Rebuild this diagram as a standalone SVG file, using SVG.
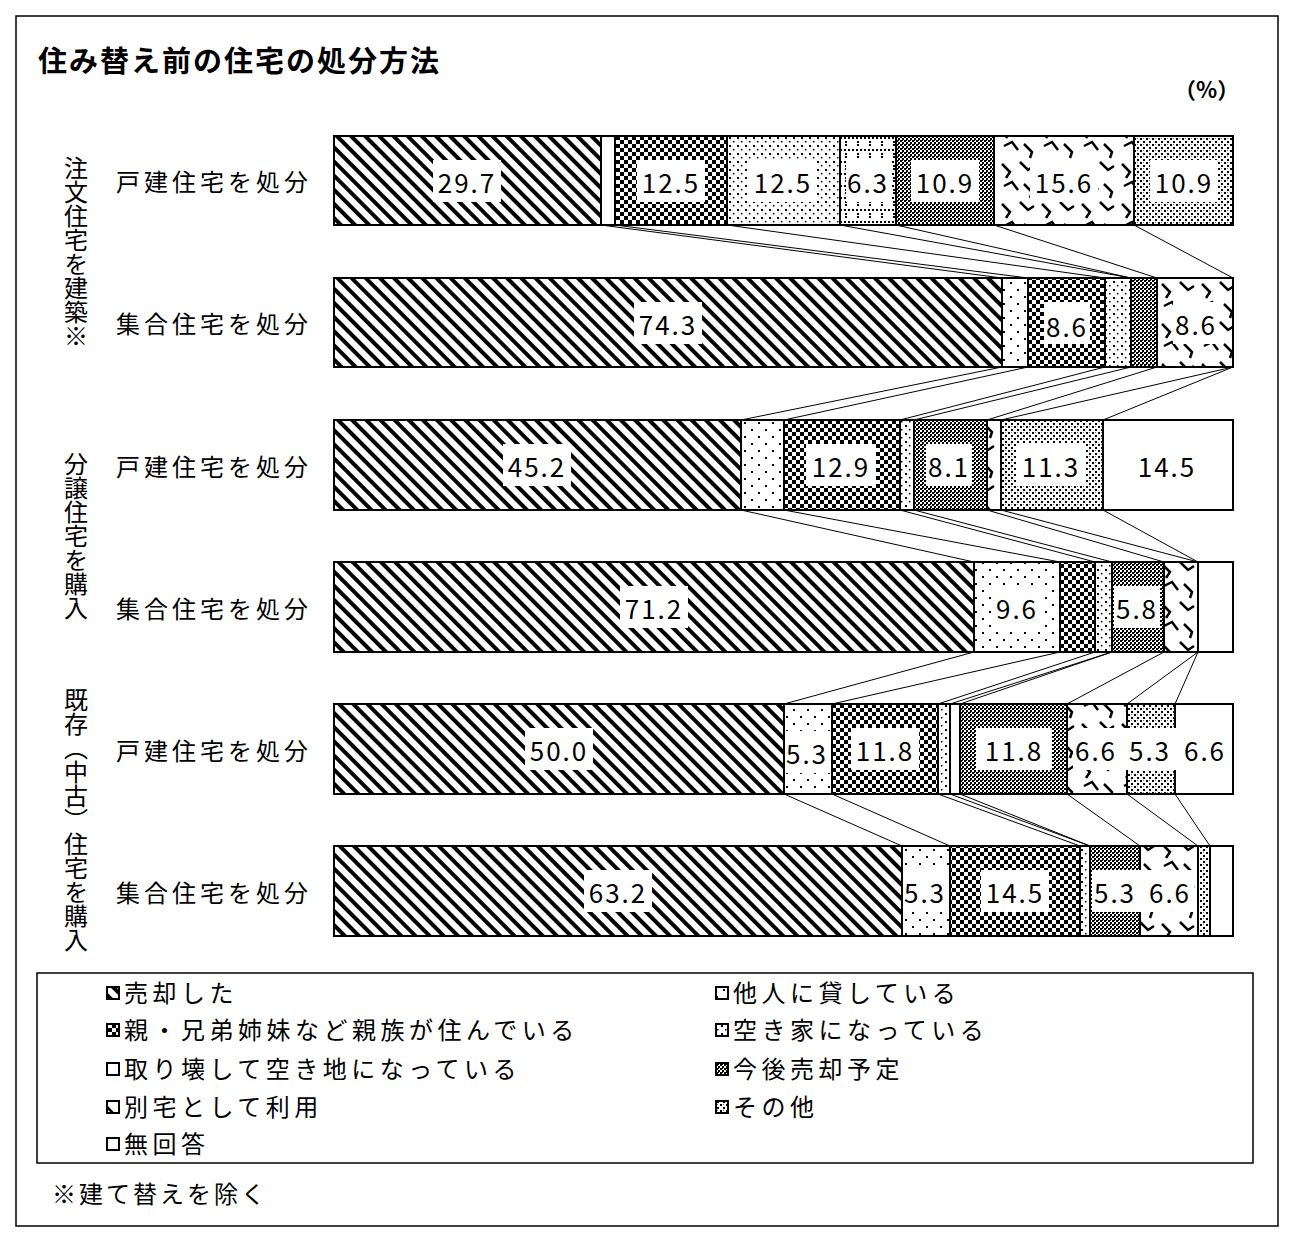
<svg xmlns="http://www.w3.org/2000/svg" width="1298" height="1244" viewBox="0 0 1298 1244">
<style>
text{font-family:"Noto Sans CJK JP","Liberation Sans",sans-serif;fill:#000}
.num{font-size:26px;text-anchor:middle;dominant-baseline:central;letter-spacing:2px}
.lab{font-size:24px;text-anchor:middle;dominant-baseline:central;letter-spacing:4px}
.vlab{font-size:24px;writing-mode:vertical-rl;text-orientation:upright;text-anchor:middle;letter-spacing:0px}
.leg{font-size:24px;letter-spacing:4.5px}
.seg{stroke:#000;stroke-width:2}
.box{fill:#fff}
.con line{stroke:#000;stroke-width:1}
.ico{stroke:#000;stroke-width:2}
</style>
<defs>
<pattern id="pDiag" width="10" height="10" patternUnits="userSpaceOnUse" patternTransform="rotate(-45)"><rect width="10" height="10" fill="#fff"/><rect width="4" height="10" fill="#000"/></pattern>
<pattern id="pChk" width="8" height="8" patternUnits="userSpaceOnUse"><rect width="8" height="8" fill="#fff"/><rect width="4" height="4" fill="#000"/><rect x="4" y="4" width="4" height="4" fill="#000"/></pattern>
<pattern id="pSparse" width="14" height="14" patternUnits="userSpaceOnUse"><rect width="14" height="14" fill="#fff"/><rect x="2" y="2" width="2" height="2" fill="#000"/><rect x="9" y="9" width="2" height="2" fill="#000"/></pattern>
<pattern id="pDots" width="8" height="8" patternUnits="userSpaceOnUse"><rect width="8" height="8" fill="#fff"/><rect x="1" y="1" width="2" height="2" fill="#000"/><rect x="5" y="5" width="1.5" height="1.5" fill="#000"/></pattern>
<pattern id="pGrid" width="12" height="12" patternUnits="userSpaceOnUse"><rect width="12" height="12" fill="#fff"/><rect x="0" y="5" width="2" height="2" fill="#000"/><rect x="4" y="5" width="2" height="2" fill="#000"/><rect x="8" y="5" width="2" height="2" fill="#000"/><rect x="5" y="0" width="2" height="2" fill="#000"/><rect x="5" y="9" width="2" height="2" fill="#000"/></pattern>
<pattern id="pDark" width="4" height="4" patternUnits="userSpaceOnUse"><rect width="4" height="4" fill="#fff"/><rect width="2" height="2" fill="#000"/><rect x="2" y="2" width="2" height="2" fill="#000"/><rect x="2" y="0" width="1" height="1" fill="#000"/></pattern>
<pattern id="pWave" width="40" height="40" patternUnits="userSpaceOnUse"><rect width="40" height="40" fill="#fff"/><path d="M2 4 L10 12 L6 18 M20 2 L28 10 L34 6 M4 26 L12 22 L18 30 M24 24 L32 32 L30 38" fill="none" stroke="#000" stroke-width="2.5"/></pattern>
<pattern id="pLight" width="6" height="6" patternUnits="userSpaceOnUse"><rect width="6" height="6" fill="#fff"/><rect width="2" height="2" fill="#000"/><rect x="3" y="3" width="2" height="2" fill="#000"/><rect x="3" y="0" width="1" height="1" fill="#777"/></pattern>
</defs>
<rect x="16" y="16" width="1262" height="1210" fill="#fff" stroke="#000" stroke-width="1.5"/>
<g id="title"><text x="38" y="72" font-size="29" font-weight="bold" letter-spacing="2">住み替え前の住宅の処分方法</text>
<text x="1174" y="98" font-size="22" font-weight="bold">（%）</text></g>

<g id="groups">
<text class="vlab" x="76" y="252">注文住宅を建築※</text>
<text class="vlab" x="76" y="536">分譲住宅を購入</text>
<text class="vlab" x="76" y="820">既存（中古）住宅を購入</text>
</g>
<g id="rowlabels">
<text class="lab" x="214" y="180">戸建住宅を処分</text>
<text class="lab" x="214" y="322">集合住宅を処分</text>
<text class="lab" x="214" y="465">戸建住宅を処分</text>
<text class="lab" x="214" y="607">集合住宅を処分</text>
<text class="lab" x="214" y="749">戸建住宅を処分</text>
<text class="lab" x="214" y="891">集合住宅を処分</text>
</g>

<g id="connectors" class="con">
<line x1="601" y1="225" x2="1002" y2="278"/><line x1="615" y1="225" x2="1028" y2="278"/><line x1="727" y1="225" x2="1105" y2="278"/><line x1="840" y1="225" x2="1131" y2="278"/><line x1="896" y1="225" x2="1131" y2="278"/><line x1="994" y1="225" x2="1157" y2="278"/><line x1="1134" y1="225" x2="1233" y2="278"/>
<line x1="1002" y1="367" x2="741" y2="420"/><line x1="1028" y1="367" x2="784" y2="420"/><line x1="1105" y1="367" x2="900" y2="420"/><line x1="1131" y1="367" x2="914" y2="420"/><line x1="1157" y1="367" x2="987" y2="420"/><line x1="1233" y1="367" x2="1001" y2="420"/><line x1="1233" y1="367" x2="1103" y2="420"/>
<line x1="741" y1="510" x2="974" y2="562"/><line x1="784" y1="510" x2="1060" y2="562"/><line x1="900" y1="510" x2="1095" y2="562"/><line x1="914" y1="510" x2="1112" y2="562"/><line x1="987" y1="510" x2="1164" y2="562"/><line x1="1001" y1="510" x2="1198" y2="562"/><line x1="1103" y1="510" x2="1198" y2="562"/>
<line x1="974" y1="652" x2="784" y2="704"/><line x1="1060" y1="652" x2="832" y2="704"/><line x1="1095" y1="652" x2="938" y2="704"/><line x1="1112" y1="652" x2="950" y2="704"/><line x1="1112" y1="652" x2="960" y2="704"/><line x1="1164" y1="652" x2="1067" y2="704"/><line x1="1198" y1="652" x2="1127" y2="704"/><line x1="1198" y1="652" x2="1175" y2="704"/>
<line x1="784" y1="794" x2="902" y2="846"/><line x1="832" y1="794" x2="950" y2="846"/><line x1="938" y1="794" x2="1080" y2="846"/><line x1="950" y1="794" x2="1090" y2="846"/><line x1="960" y1="794" x2="1090" y2="846"/><line x1="1067" y1="794" x2="1140" y2="846"/><line x1="1127" y1="794" x2="1198" y2="846"/><line x1="1175" y1="794" x2="1210" y2="846"/>
</g>

<g id="bar1">
<rect class="seg" x="334" y="136" width="267" height="89" fill="url(#pDiag)"/>
<rect class="seg" x="601" y="136" width="14" height="89" fill="#fff"/>
<rect class="seg" x="615" y="136" width="112" height="89" fill="url(#pChk)"/>
<rect class="seg" x="727" y="136" width="113" height="89" fill="url(#pDots)"/>
<rect class="seg" x="840" y="136" width="56" height="89" fill="url(#pGrid)"/>
<rect class="seg" x="896" y="136" width="98" height="89" fill="url(#pDark)"/>
<rect class="seg" x="994" y="136" width="140" height="89" fill="url(#pWave)"/>
<rect class="seg" x="1134" y="136" width="99" height="89" fill="url(#pLight)"/>
<rect class="box" x="433" y="160" width="68" height="42"/><text class="num" x="467" y="181">29.7</text>
<rect class="box" x="637" y="160" width="68" height="42"/><text class="num" x="671" y="181">12.5</text>
<rect class="box" x="749" y="160" width="68" height="42"/><text class="num" x="783" y="181">12.5</text>
<rect class="box" x="846" y="160" width="44" height="42"/><text class="num" x="868" y="181">6.3</text>
<rect class="box" x="911" y="160" width="68" height="42"/><text class="num" x="945" y="181">10.9</text>
<rect class="box" x="1030" y="160" width="68" height="42"/><text class="num" x="1064" y="181">15.6</text>
<rect class="box" x="1150" y="160" width="68" height="42"/><text class="num" x="1184" y="181">10.9</text>
</g>
<g id="bar2">
<rect class="seg" x="334" y="278" width="668" height="89" fill="url(#pDiag)"/>
<rect class="seg" x="1002" y="278" width="26" height="89" fill="url(#pSparse)"/>
<rect class="seg" x="1028" y="278" width="77" height="89" fill="url(#pChk)"/>
<rect class="seg" x="1105" y="278" width="26" height="89" fill="url(#pDots)"/>
<rect class="seg" x="1131" y="278" width="26" height="89" fill="url(#pDark)"/>
<rect class="seg" x="1157" y="278" width="76" height="89" fill="url(#pWave)"/>
<rect class="box" x="634" y="302" width="68" height="42"/><text class="num" x="668" y="323">74.3</text>
<rect class="box" x="1044" y="302" width="46" height="42"/><text class="num" x="1067" y="325">8.6</text>
<rect class="box" x="1173" y="302" width="46" height="42"/><text class="num" x="1196" y="323">8.6</text>
</g>
<g id="bar3">
<rect class="seg" x="334" y="420" width="407" height="90" fill="url(#pDiag)"/>
<rect class="seg" x="741" y="420" width="43" height="90" fill="url(#pSparse)"/>
<rect class="seg" x="784" y="420" width="116" height="90" fill="url(#pChk)"/>
<rect class="seg" x="900" y="420" width="14" height="90" fill="url(#pDots)"/>
<rect class="seg" x="914" y="420" width="73" height="90" fill="url(#pDark)"/>
<rect class="seg" x="987" y="420" width="14" height="90" fill="url(#pWave)"/>
<rect class="seg" x="1001" y="420" width="102" height="90" fill="url(#pLight)"/>
<rect class="seg" x="1103" y="420" width="130" height="90" fill="#fff"/>
<rect class="box" x="503" y="444" width="68" height="42"/><text class="num" x="537" y="465">45.2</text>
<rect class="box" x="806" y="444" width="70" height="42"/><text class="num" x="841" y="465">12.9</text>
<rect class="box" x="926" y="444" width="46" height="42"/><text class="num" x="949" y="465">8.1</text>
<rect class="box" x="1017" y="444" width="68" height="42"/><text class="num" x="1051" y="465">11.3</text>
<text class="num" x="1167" y="465">14.5</text>
</g>
<g id="bar4">
<rect class="seg" x="334" y="562" width="640" height="90" fill="url(#pDiag)"/>
<rect class="seg" x="974" y="562" width="86" height="90" fill="url(#pSparse)"/>
<rect class="seg" x="1060" y="562" width="35" height="90" fill="url(#pChk)"/>
<rect class="seg" x="1095" y="562" width="17" height="90" fill="url(#pDots)"/>
<rect class="seg" x="1112" y="562" width="52" height="90" fill="url(#pDark)"/>
<rect class="seg" x="1164" y="562" width="34" height="90" fill="url(#pWave)"/>
<rect class="seg" x="1198" y="562" width="35" height="90" fill="#fff"/>
<rect class="box" x="620" y="586" width="68" height="42"/><text class="num" x="654" y="607">71.2</text>
<rect class="box" x="994" y="586" width="46" height="42"/><text class="num" x="1017" y="607">9.6</text>
<rect class="box" x="1114" y="586" width="46" height="42"/><text class="num" x="1137" y="607">5.8</text>
</g>
<g id="bar5">
<rect class="seg" x="334" y="704" width="450" height="90" fill="url(#pDiag)"/>
<rect class="seg" x="784" y="704" width="48" height="90" fill="url(#pSparse)"/>
<rect class="seg" x="832" y="704" width="106" height="90" fill="url(#pChk)"/>
<rect class="seg" x="938" y="704" width="12" height="90" fill="url(#pDots)"/>
<rect class="seg" x="950" y="704" width="10" height="90" fill="#fff"/>
<rect class="seg" x="960" y="704" width="107" height="90" fill="url(#pDark)"/>
<rect class="seg" x="1067" y="704" width="60" height="90" fill="url(#pWave)"/>
<rect class="seg" x="1127" y="704" width="48" height="90" fill="url(#pLight)"/>
<rect class="seg" x="1175" y="704" width="58" height="90" fill="#fff"/>
<rect class="box" x="525" y="728" width="68" height="42"/><text class="num" x="559" y="749">50.0</text>
<rect class="box" x="786" y="731" width="44" height="42"/><text class="num" x="807" y="752">5.3</text>
<rect class="box" x="851" y="728" width="68" height="42"/><text class="num" x="885" y="749">11.8</text>
<rect class="box" x="976" y="728" width="76" height="42"/><text class="num" x="1014" y="749">11.8</text>
<rect class="box" x="1073" y="728" width="150" height="42"/><text class="num" x="1096" y="749">6.6</text><text class="num" x="1150" y="749">5.3</text><text class="num" x="1205" y="749">6.6</text>
</g>
<g id="bar6">
<rect class="seg" x="334" y="846" width="568" height="90" fill="url(#pDiag)"/>
<rect class="seg" x="902" y="846" width="48" height="90" fill="url(#pSparse)"/>
<rect class="seg" x="950" y="846" width="130" height="90" fill="url(#pChk)"/>
<rect class="seg" x="1080" y="846" width="10" height="90" fill="url(#pDots)"/>
<rect class="seg" x="1090" y="846" width="50" height="90" fill="url(#pDark)"/>
<rect class="seg" x="1140" y="846" width="58" height="90" fill="url(#pWave)"/>
<rect class="seg" x="1198" y="846" width="12" height="90" fill="url(#pLight)"/>
<rect class="seg" x="1210" y="846" width="23" height="90" fill="#fff"/>
<rect class="box" x="584" y="870" width="68" height="42"/><text class="num" x="618" y="891">63.2</text>
<rect class="box" x="903" y="870" width="46" height="42"/><text class="num" x="925" y="891">5.3</text>
<rect class="box" x="981" y="870" width="68" height="42"/><text class="num" x="1015" y="891">14.5</text>
<rect class="box" x="1092" y="870" width="102" height="42"/><text class="num" x="1115" y="891">5.3</text><text class="num" x="1170" y="891">6.6</text>
</g>

<g id="legend">
<rect x="37" y="973" width="1216" height="190" fill="#fff" stroke="#000" stroke-width="1.5"/>
<rect class="ico" x="107" y="987" width="12" height="12" fill="url(#pDiag)"/><text class="leg" x="124" y="1002">売却した</text>
<rect class="ico" x="107" y="1024" width="12" height="12" fill="url(#pChk)"/><text class="leg" x="124" y="1039">親・兄弟姉妹など親族が住んでいる</text>
<rect class="ico" x="107" y="1063" width="12" height="12" fill="#fff"/><text class="leg" x="124" y="1078">取り壊して空き地になっている</text>
<rect class="ico" x="107" y="1101" width="12" height="12" fill="url(#pWave)"/><text class="leg" x="124" y="1116">別宅として利用</text>
<rect class="ico" x="107" y="1138" width="12" height="12" fill="#fff"/><text class="leg" x="124" y="1153">無回答</text>
<rect class="ico" x="716" y="987" width="12" height="12" fill="url(#pSparse)"/><text class="leg" x="733" y="1002">他人に貸している</text>
<rect class="ico" x="716" y="1024" width="12" height="12" fill="url(#pDots)"/><text class="leg" x="733" y="1039">空き家になっている</text>
<rect class="ico" x="716" y="1063" width="12" height="12" fill="url(#pDark)"/><text class="leg" x="733" y="1078">今後売却予定</text>
<rect class="ico" x="716" y="1101" width="12" height="12" fill="url(#pLight)"/><text class="leg" x="733" y="1116">その他</text>
</g>
<text id="note" x="52" y="1203" font-size="24" letter-spacing="3">※建て替えを除く</text>
</svg>
